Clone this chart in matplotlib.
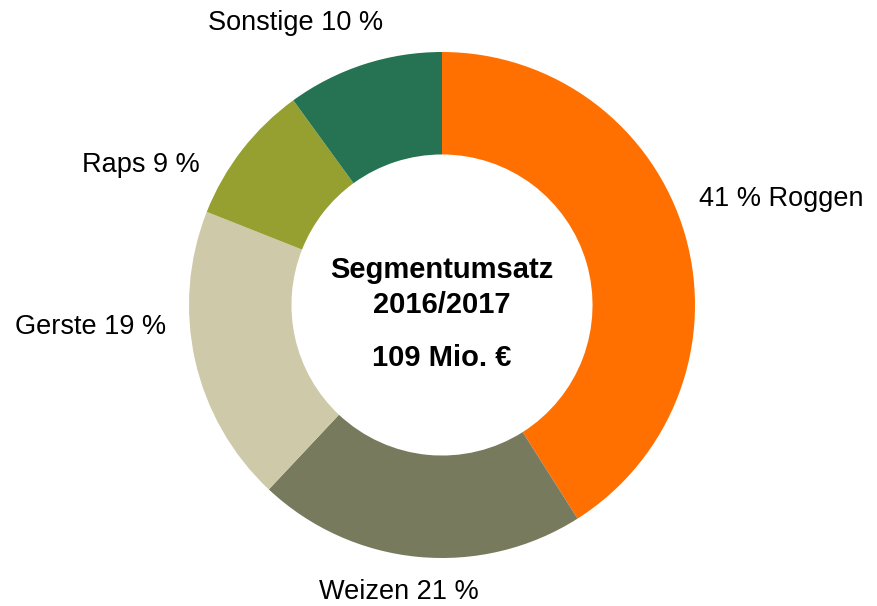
import matplotlib.pyplot as plt

plt.rcParams['font.family'] = ['Liberation Sans', 'DejaVu Sans']

# Segment shares (clockwise from 12 o'clock)
segments = ['Roggen', 'Weizen', 'Gerste', 'Raps', 'Sonstige']
shares = [41, 21, 19, 9, 10]
colors = ['#FF7000', '#787A5E', '#CEC9A8', '#96A030', '#257352']
labels = ['41 % Roggen', 'Weizen 21 %', 'Gerste 19 %', 'Raps 9 %', 'Sonstige 10 %']
label_pos = [(1.34, 0.42), (-0.17, -1.135), (-1.39, -0.085), (-1.19, 0.555), (-0.58, 1.115)]

fig = plt.figure(figsize=(8.77, 6.06), dpi=100)
r_px = 253
cx, cy = 442, 305
ax = fig.add_axes([(cx - r_px) / 877, (606 - cy - r_px) / 606, 2 * r_px / 877, 2 * r_px / 606])

ax.pie(shares, colors=colors, startangle=90, counterclock=False, radius=1,
       wedgeprops=dict(width=0.405, edgecolor='none'))
ax.set_xlim(-1, 1)
ax.set_ylim(-1, 1)
ax.set_aspect('equal')
ax.axis('off')

for txt, (x, y) in zip(labels, label_pos):
    ax.text(x, y, txt, ha='center', va='center', fontsize=19.5, clip_on=False)

ax.text(0, 0.07, 'Segmentumsatz\n2016/2017', ha='center', va='center',
        fontsize=21, fontweight='bold', linespacing=1.3)
ax.text(0, -0.21, '109 Mio. €', ha='center', va='center', fontsize=21, fontweight='bold')

fig.savefig('out.png', dpi=100)
